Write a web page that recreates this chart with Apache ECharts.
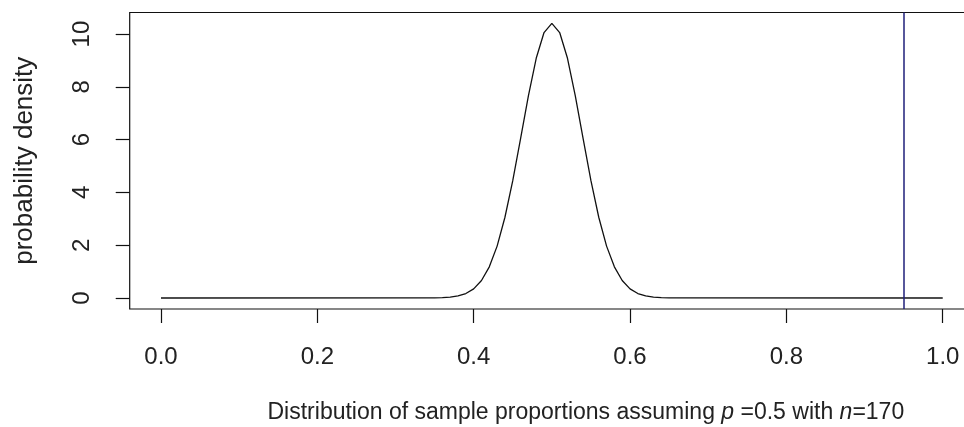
<!DOCTYPE html>
<html>
<head>
<meta charset="utf-8">
<script src="https://cdn.jsdelivr.net/npm/echarts@6/dist/echarts.min.js"></script>
<style>
html, body { margin: 0; padding: 0; background: #fff; }
#chart { width: 964px; height: 427px; }
</style>
</head>
<body>
<div id="chart"></div>
<script>
// sample proportion grid (flat at zero outside 0.34..0.66)
var proportions = [0, 0.34, 0.35, 0.36, 0.37, 0.38, 0.39, 0.40, 0.41, 0.42, 0.43, 0.44, 0.45,
    0.46, 0.47, 0.48, 0.49, 0.50, 0.51, 0.52, 0.53, 0.54, 0.55, 0.56, 0.57, 0.58, 0.59,
    0.60, 0.61, 0.62, 0.63, 0.64, 0.65, 0.66, 1.0];
var densities = [0, 0.002, 0.005, 0.013, 0.033, 0.078, 0.17, 0.347, 0.663, 1.181, 1.966, 3.06, 4.447,
    6.038, 7.661, 9.081, 10.056, 10.403, 10.056, 9.081, 7.661, 6.038, 4.447, 3.06, 1.966, 1.181, 0.663,
    0.347, 0.17, 0.078, 0.033, 0.013, 0.005, 0.002, 0];
var xTicks = [0, 0.2, 0.4, 0.6, 0.8, 1.0];
var yTicks = [0, 2, 4, 6, 8, 10];
var observed = 0.954;

var chart = echarts.init(document.getElementById('chart'), null, {renderer: 'canvas'});

var points = proportions.map(function (p, i) { return [p, densities[i]]; });
var font = 'Liberation Sans, Arial, sans-serif';

var option = {
    animation: false,
    backgroundColor: '#ffffff',
    grid: {
        show: true,
        left: 129.7,
        right: -10,
        top: 12.5,
        bottom: 118,
        outerBoundsMode: 'none',
        containLabel: false,
        borderColor: '#111',
        borderWidth: 1.2,
        backgroundColor: 'transparent'
    },
    xAxis: {
        type: 'value',
        min: -0.04,
        max: 1.04,
        splitLine: {show: false},
        axisLine: {show: false, onZero: false},
        axisTick: {show: true, length: 14, inside: false, customValues: xTicks,
            lineStyle: {color: '#111', width: 1.2}},
        axisLabel: {
            show: true,
            customValues: xTicks,
            margin: 36,
            fontSize: 24,
            fontFamily: font,
            color: '#222',
            formatter: function (v) { return v.toFixed(1); }
        },
        name: '{a|Distribution of sample proportions assuming }{i|p}{a| =0.5 with }{i|n}{a|=170}',
        nameLocation: 'middle',
        nameGap: 92,
        nameMoveOverlap: false,
        nameTextStyle: {
            padding: [0, 0, 0, 68],
            rich: {
                a: {fontSize: 23, fontFamily: font, color: '#222'},
                i: {fontSize: 23, fontFamily: font, color: '#222', fontStyle: 'italic'}
            }
        }
    },
    yAxis: {
        type: 'value',
        min: -0.416,
        max: 10.816,
        splitLine: {show: false},
        axisLine: {show: false, onZero: false},
        axisTick: {show: true, length: 14, inside: false, customValues: yTicks,
            lineStyle: {color: '#111', width: 1.2}},
        axisLabel: {
            show: true,
            customValues: yTicks,
            rotate: 90,
            margin: 35,
            fontSize: 24,
            fontFamily: font,
            color: '#222'
        },
        name: 'probability density',
        nameLocation: 'middle',
        nameGap: 92,
        nameMoveOverlap: false,
        nameTextStyle: {fontSize: 26, fontFamily: font, color: '#222'}
    },
    series: [
        {
            type: 'line',
            data: points,
            showSymbol: false,
            symbol: 'none',
            lineStyle: {color: '#111', width: 1.3},
            markLine: {
                symbol: 'none',
                silent: true,
                label: {show: false},
                lineStyle: {color: '#1f1f7a', width: 1.5, type: 'solid'},
                data: [{xAxis: observed}]
            }
        }
    ]
};
chart.setOption(option);
</script>
</body>
</html>
